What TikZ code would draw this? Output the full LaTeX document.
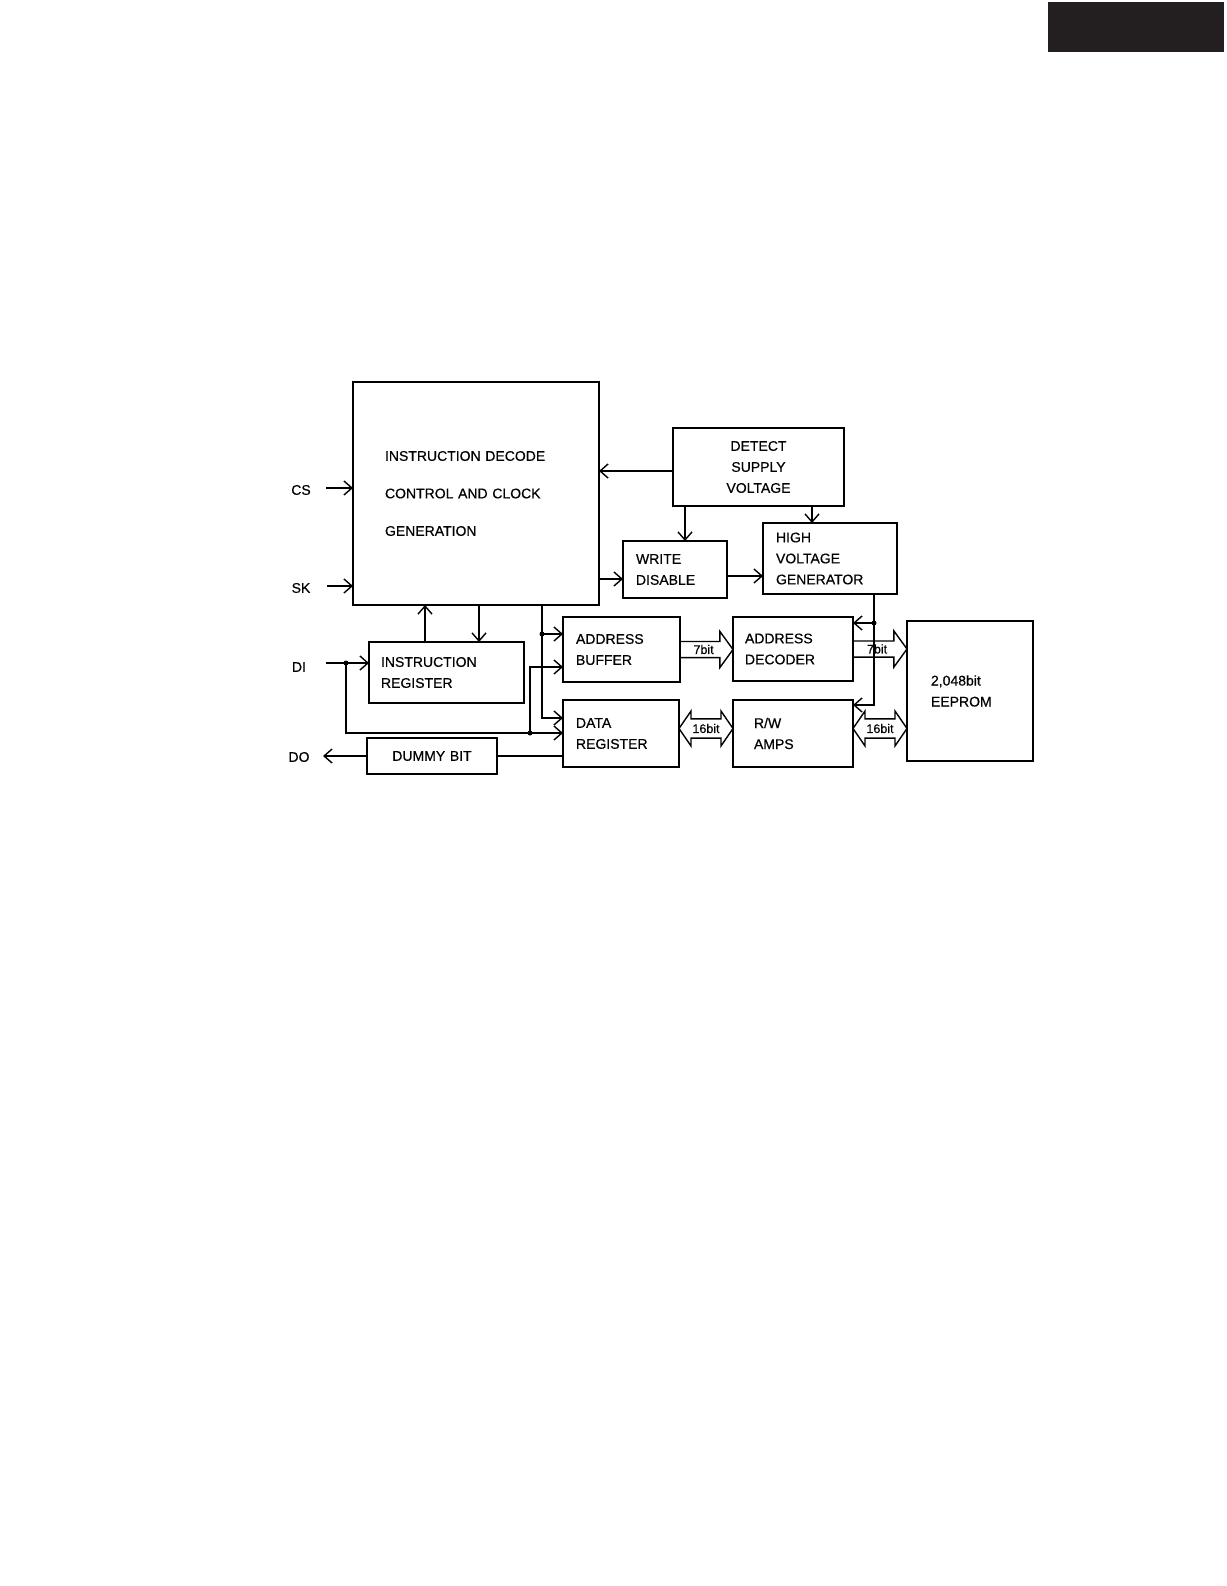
\documentclass[tikz,border=0pt]{standalone}
\usepackage{fontspec}
\setmainfont{Liberation Sans}[FakeBold=0.5]
\usetikzlibrary{arrows.meta,shapes.arrows,calc}
\definecolor{tab}{HTML}{231F20}
\begin{document}
\begin{tikzpicture}[x=1pt,y=-1pt,line width=1.4pt,
	>={Straight Barb[length=8pt,width=14pt]},
	blk/.style={draw,anchor=north west,outer sep=0pt,inner ysep=0pt,align=left,font=\fontsize{14}{21}\selectfont},
	pinlbl/.style={font=\fontsize{14}{16}\selectfont,inner sep=0pt},
	bus/.style={draw,single arrow,single arrow head extend=9pt,single arrow tip angle=108,minimum width=36pt,inner xsep=1pt,inner ysep=2pt,outer sep=0pt,anchor=tail,font=\fontsize{12.5}{13}\selectfont},
	dbus/.style={draw,double arrow,double arrow head extend=6pt,double arrow tip angle=111,minimum width=35pt,inner xsep=1pt,inner ysep=2pt,outer sep=0pt,font=\fontsize{12.5}{13}\selectfont},
	dot/.style={circle,fill,inner sep=0pt,minimum size=5pt}]
	\useasboundingbox (0,0) rectangle (1226,1586);
	\fill[tab] (1048,2) rectangle (1224,52);
	% blocks
	\node[blk,minimum width=246pt,minimum height=223pt,inner xsep=32pt,text width=182pt,font=\fontsize{14}{37.5}\selectfont] (icd) at (353,382) {INSTRUCTION DECODE\\CONTROL AND CLOCK\\GENERATION};
	\node[blk,minimum width=171pt,minimum height=78pt,inner xsep=0pt,text width=171pt,align=center] (dsv) at (673,428) {DETECT\\SUPPLY\\VOLTAGE};
	\node[blk,minimum width=104pt,minimum height=57pt,inner xsep=13pt,text width=78pt] (wd) at (623,541) {WRITE\\DISABLE};
	\node[blk,minimum width=134pt,minimum height=71pt,inner xsep=13pt,text width=108pt] (hvg) at (763,523) {HIGH\\VOLTAGE\\GENERATOR};
	\node[blk,minimum width=155pt,minimum height=61pt,inner xsep=12pt,text width=131pt] (ir) at (369,642) {INSTRUCTION\\REGISTER};
	\node[blk,minimum width=130pt,minimum height=36pt,inner xsep=0pt,text width=130pt,align=center] (db) at (367,738) {DUMMY BIT};
	\node[blk,minimum width=117pt,minimum height=65pt,inner xsep=13pt,text width=91pt] (ab) at (563,617) {ADDRESS\\BUFFER};
	\node[blk,minimum width=116pt,minimum height=67pt,inner xsep=13pt,text width=90pt] (dr) at (563,700) {DATA\\REGISTER};
	\node[blk,minimum width=120pt,minimum height=64pt,inner xsep=12pt,text width=96pt] (ad) at (733,617) {ADDRESS\\DECODER};
	\node[blk,minimum width=120pt,minimum height=67pt,inner xsep=21pt,text width=78pt] (rw) at (733,700) {R/W\\AMPS};
	\node[blk,minimum width=126pt,minimum height=140pt,inner xsep=24pt,text width=78pt] (ee) at (907,621) {2,048bit\\EEPROM};
	% pins
	\node[pinlbl] (cs) at (301,490) {CS};
	\node[pinlbl] (sk) at (301,588) {SK};
	\node[pinlbl] (di) at (299,667) {DI};
	\node[pinlbl] (do) at (299,757) {DO};
	\coordinate (csin) at (326,488);
	\coordinate (skin) at (327,586);
	\coordinate (diin) at (326,663);
	\coordinate (doout) at (323,756);
	\draw[->] (csin) -- (csin -| icd.west);
	\draw[->] (skin) -- (skin -| icd.west);
	% taps
	\coordinate (dsvl) at ($(dsv.north west)+(0,43)$);
	\coordinate (wdtop) at ($(wd.north west)+(62,0)$);
	\coordinate (hvtop) at ($(hvg.north west)+(49,0)$);
	\coordinate (wdin) at ($(wd.north west)+(0,38)$);
	\coordinate (wdo) at ($(wd.north east)+(0,35)$);
	\coordinate (irup) at ($(ir.north west)+(56,0)$);
	\coordinate (irdn) at ($(ir.north west)+(110,0)$);
	\coordinate (irin) at ($(ir.north west)+(0,21)$);
	\coordinate (abin1) at ($(ab.north west)+(0,17)$);
	\coordinate (abin2) at ($(ab.north west)+(0,50)$);
	\coordinate (drin1) at ($(dr.north west)+(0,18)$);
	\coordinate (drin2) at ($(dr.north west)+(0,33)$);
	\coordinate (drout) at ($(dr.north west)+(0,56)$);
	\coordinate (icdo) at ($(icd.south west)+(189,0)$);
	\coordinate (dij) at (346,663);
	\coordinate (dj2) at ($(drin2)+(-33,0)$);
	\coordinate (hvout) at ($(hvg.south east)+(-23,0)$);
	\coordinate (adin) at ($(ad.north east)+(0,6)$);
	\coordinate (rwin) at ($(rw.north east)+(0,5)$);
	% control lines
	\draw[->] (dsvl) -- (dsvl -| icd.east);
	\draw[->] (wdtop |- dsv.south) -- (wdtop);
	\draw[->] (hvtop |- dsv.south) -- (hvtop);
	\draw[->] (wdin -| icd.east) -- (wdin);
	\draw[->] (wdo) -- (wdo -| hvg.west);
	\draw[->] (irup) -- (irup |- icd.south);
	\draw[->] (irdn |- icd.south) -- (irdn);
	\draw[->] (diin) -- (irin);
	\draw[->] (dij) |- (drin2);
	\draw[->] (dj2) |- (abin2);
	\draw[->] (icdo) |- (drin1);
	\draw[->] (icdo |- abin1) -- (abin1);
	\draw (drout) -- (db.east);
	\draw[->] (db.west) -- (doout);
	% buses
	\node[bus,minimum height=53pt] (ab2ad) at (ab.east) {7bit};
	\node[bus,minimum height=54pt] (ad2ee) at (ad.east) {7bit};
	\node[dbus,minimum height=54pt] (dr2rw) at ($(dr.east)!.5!(rw.west)+(0,-5)$) {16bit};
	\node[dbus,minimum height=54pt] (rw2ee) at ($(rw.east)!.5!(rw.east -| ee.west)+(0,-5)$) {16bit};
	\draw[->] (hvout) |- (rwin);
	\draw[->] (hvout |- adin) -- (adin);
	% junctions
	\node[dot] at (dij) {};
	\node[dot] at (dj2) {};
	\node[dot] at (icdo |- abin1) {};
	\node[dot] at (hvout |- adin) {};
\end{tikzpicture}
\end{document}
